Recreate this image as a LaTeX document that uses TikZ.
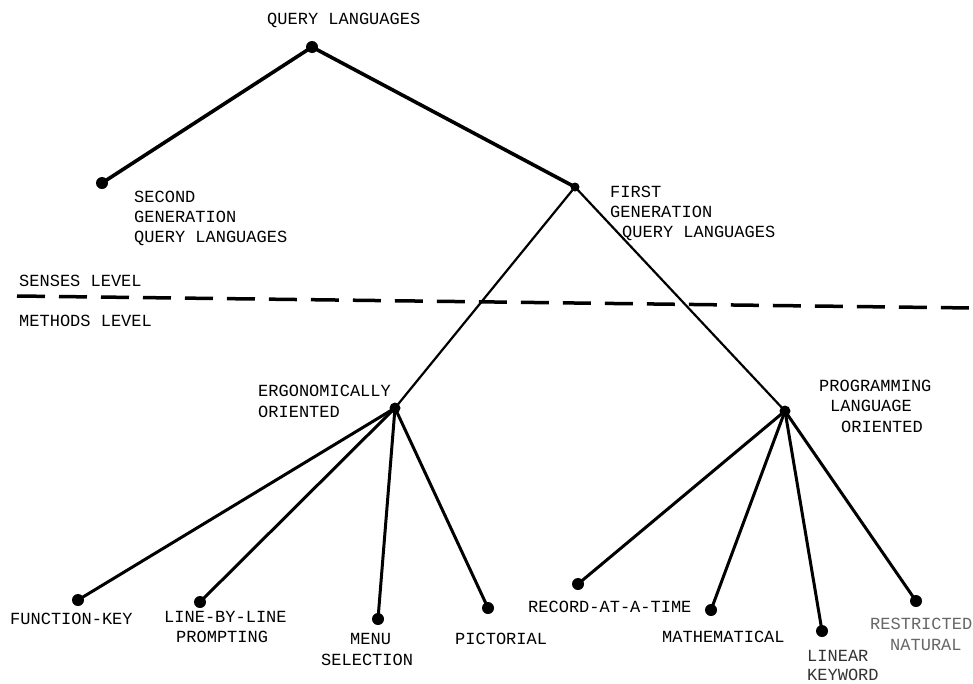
\documentclass[tikz,border=0pt]{standalone}
\usepackage{fontspec}
\setmonofont{Liberation Mono}
\begin{document}
\begin{tikzpicture}[x=1pt,y=-1pt,
  dot/.style={circle,fill=black,inner sep=0pt,minimum size=12pt},
  lbl/.style={font=\ttfamily\fontsize{17}{20}\selectfont,inner sep=0pt,anchor=west,text height=10pt,text depth=0pt},
  faint/.style={lbl,text=black!60},
  heavy/.style={line width=3.6pt},
  medium/.style={line width=3pt},
  light/.style={line width=2.2pt},
  levelline/.style={line width=3.5pt,dash pattern=on 28pt off 14pt}]
\useasboundingbox (0,0) rectangle (973,683);

% dots
\node[dot] (root) at (312,47) {};
\node[dot] (sec) at (102,183) {};
\node[dot,minimum size=9pt] (first) at (575,187) {};
\node[dot,minimum size=11pt] (ergo) at (395,408) {};
\node[dot,minimum size=11pt] (prog) at (785,411) {};
\node[dot] (fk) at (78,600) {};
\node[dot] (lbl) at (200,602) {};
\node[dot] (menu) at (378,619) {};
\node[dot] (pict) at (488,608) {};
\node[dot] (rec) at (578,584) {};
\node[dot] (math) at (711,610) {};
\node[dot] (lin) at (822,631) {};
\node[dot] (res) at (916,601) {};

% connectors
\draw[heavy] (root.center) -- (sec.center);
\draw[heavy] (root.center) -- (first.center);
\draw[light] (first.center) -- (ergo.center);
\draw[light] (first.center) -- (prog.center);
\draw[medium] (ergo.center) -- (fk.center);
\draw[medium] (ergo.center) -- (lbl.center);
\draw[medium] (ergo.center) -- (menu.center);
\draw[medium] (ergo.center) -- (pict.center);
\draw[medium] (prog.center) -- (rec.center);
\draw[medium] (prog.center) -- (math.center);
\draw[medium] (prog.center) -- (lin.center);
\draw[medium] (prog.center) -- (res.center);

% level separator
\coordinate (dl) at (17,296);
\coordinate (dr) at (973,308);
\draw[levelline] (dl) -- (dr);

% labels
\node[lbl] (t-root) at (267,19) {QUERY LANGUAGES};
\node[lbl] (t-sec1) at (134,197) {SECOND};
\node[lbl] (t-sec2) at (134,217) {GENERATION};
\node[lbl] (t-sec3) at (134,237) {QUERY LANGUAGES};
\node[lbl] (t-fst1) at (610,192) {FIRST};
\node[lbl] (t-fst2) at (610,212) {GENERATION};
\node[lbl] (t-fst3) at (622,232) {QUERY LANGUAGES};
\node[lbl] (t-senses) at (19,281) {SENSES LEVEL};
\node[lbl] (t-methods) at (19,321) {METHODS LEVEL};
\node[lbl] (t-ergo1) at (258,391) {ERGONOMICALLY};
\node[lbl] (t-ergo2) at (258,412) {ORIENTED};
\node[lbl] (t-prog1) at (819,386) {PROGRAMMING};
\node[lbl] (t-prog2) at (830,406) {LANGUAGE};
\node[lbl] (t-prog3) at (841,427) {ORIENTED};
\node[lbl] (t-fk) at (10,619) {FUNCTION-KEY};
\node[lbl] (t-lbl1) at (164,617) {LINE-BY-LINE};
\node[lbl] (t-lbl2) at (176,637) {PROMPTING};
\node[lbl] (t-menu1) at (350,639) {MENU};
\node[lbl] (t-menu2) at (321,660) {SELECTION};
\node[lbl] (t-pict) at (455,639) {PICTORIAL};
\node[lbl] (t-rec) at (528,607) {RECORD-AT-A-TIME};
\node[lbl] (t-math) at (662,637) {MATHEMATICAL};
\node[faint,text=black!80] (t-lin1) at (807,656) {LINEAR};
\node[faint,text=black!80] (t-lin2) at (807,675) {KEYWORD};
\node[faint] (t-res1) at (870,624) {RESTRICTED};
\node[faint] (t-res2) at (890,645) {NATURAL};
\end{tikzpicture}
\end{document}
